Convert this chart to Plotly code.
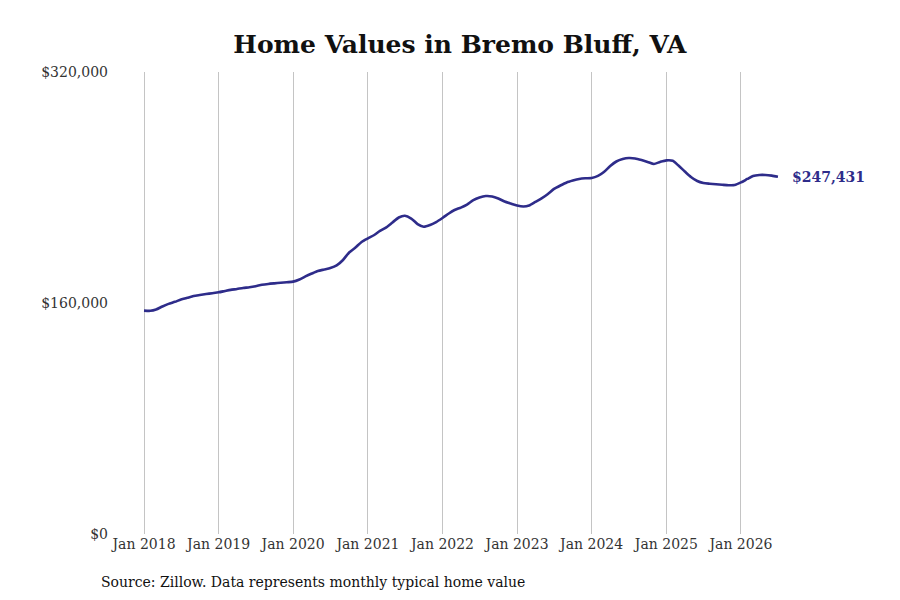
import pandas as pd
import plotly.graph_objects as go

# monthly typical home value, Jan 2018 .. Jul 2026
home_values = [
    154700, 154600, 155500, 157600, 159400, 160800, 162400, 163600, 164800, 165500, 166200, 166800,
    167400, 168300, 169100, 169700, 170400, 170900, 171600, 172600, 173200, 173600, 174000, 174400,
    174800, 176300, 178400, 180400, 182200, 183200, 184200, 186000, 189800, 195000, 198400, 202300,
    204800, 207100, 209900, 212400, 215800, 219200, 220400, 218500, 214700, 212800, 214000, 216100,
    218900, 222000, 224400, 226100, 228200, 231300, 233100, 234100, 233800, 232400, 230300, 228900,
    227500, 226800, 227500, 230000, 232400, 235500, 239000, 241400, 243500, 244800, 245900, 246400,
    246600, 248000, 250700, 254900, 258000, 259700, 260400, 260100, 259000, 257700, 256300, 257700,
    258800, 258500, 255200, 251100, 247300, 244500, 243100, 242600, 242200, 241900, 241600, 241700,
    243500, 245900, 248000, 248700, 248700, 248200, 247431,
]
months = pd.date_range("2018-01-01", periods=len(home_values), freq="MS")

year_ticks = pd.date_range("2018-01-01", "2026-01-01", freq="YS")
y_ticks = [0, 160000, 320000]
y_tick_text = ["$0", "$160,000", "$320,000"]

line_color = "#2e2c8a"
font = "DejaVu Serif"

fig = go.Figure()

fig.add_trace(go.Scatter(x=months, y=home_values,
                         mode='lines',
                         line=dict(color=line_color, width=2.6, shape='spline', smoothing=0.6),
                         showlegend=False, hoverinfo='skip'))

fig.add_annotation(x=months[-1], y=home_values[-1],
                   text="<b>$" + f"{home_values[-1]:,}" + "</b>",
                   showarrow=False, xanchor='left', xshift=12,
                   font=dict(family=font, size=14, color=line_color))

fig.add_annotation(x=-0.0237, y=-0.104, xref='paper', yref='paper',
                   text="Source: Zillow. Data represents monthly typical home value",
                   showarrow=False, xanchor='left', yanchor='middle',
                   font=dict(family=font, size=14, color='#111111'))

fig.update_xaxes(range=["2017-08-12", "2026-08-29"],
                 tickvals=year_ticks, tickformat="%b %Y",
                 showgrid=True, gridcolor="#c4c4c4", gridwidth=1,
                 showline=False, zeroline=False, ticks='',
                 tickfont=dict(family=font, size=14, color='#333333'))
fig.update_yaxes(range=[0, 320000], tickvals=y_ticks, ticktext=y_tick_text,
                 ticklabelstandoff=6,
                 showgrid=False, zeroline=False, showline=False, ticks='',
                 tickfont=dict(family=font, size=14, color='#333333'))

fig.update_layout(title=dict(text="<b>Home Values in Bremo Bluff, VA</b>", x=0.502, xanchor='center',
                             y=0.94, yanchor='middle',
                             font=dict(family=font, size=25, color='#111111')),
                  width=900, height=600,
                  margin=dict(l=107, r=118, t=64, b=74),
                  plot_bgcolor='white', paper_bgcolor='white')

fig.write_html("out.html")
